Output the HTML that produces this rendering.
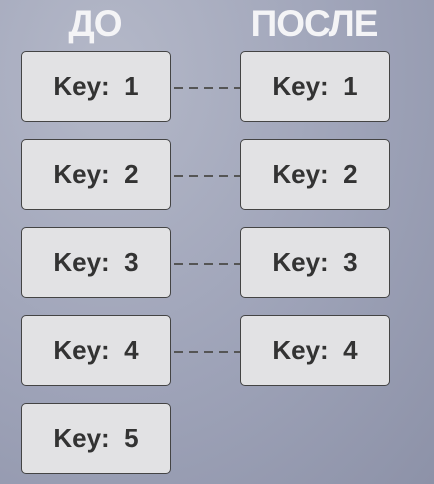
<!DOCTYPE html>
<html><head><meta charset="utf-8"><style>
body{margin:0;width:434px;height:484px;overflow:hidden;font-family:"Liberation Sans","DejaVu Sans",sans-serif;
background:radial-gradient(ellipse at 25% 15%,#b4b8c8 0%,#9ea3b8 55%,#8d92a8 100%);position:relative}
.t{position:absolute;top:3px;color:#f4f4f6;font-weight:bold;font-size:37px;text-align:center;width:150px;letter-spacing:-1px}
.b{position:absolute;background:#e2e2e4;border:1.5px solid #444;border-radius:5px;
display:flex;align-items:center;justify-content:center;font-weight:bold;font-size:26px;color:#333;box-sizing:border-box;width:150px;height:71px}
.d{position:absolute;left:174px;width:66px;height:2px;background:repeating-linear-gradient(90deg,#555 0 9px,transparent 9px 15px)}
</style></head><body>
<div class="t" style="left:20px">ДО</div>
<div class="t" style="left:239px">ПОСЛЕ</div>
<div id="root"></div>
<script>
const beforeKeys=[1,2,3,4,5];
const afterKeys=[1,2,3,4];
const root=document.getElementById('root');
beforeKeys.forEach((k,i)=>{
  const y=51+i*88;
  const b=document.createElement('div');b.className='b';b.style.left='21px';b.style.top=y+'px';b.textContent='Key:\u00a0 '+k;
  
  
  root.appendChild(b);
});
afterKeys.forEach((k,i)=>{
  const y=51+i*88;
  const b=document.createElement('div');b.className='b';b.style.left='240px';b.style.top=y+'px';b.textContent='Key:\u00a0 '+k;
  
  
  root.appendChild(b);
  const d=document.createElement('div');d.className='d';d.style.top=(y+36)+'px';
  
  
  root.appendChild(d);
});
</script>
</body></html>
